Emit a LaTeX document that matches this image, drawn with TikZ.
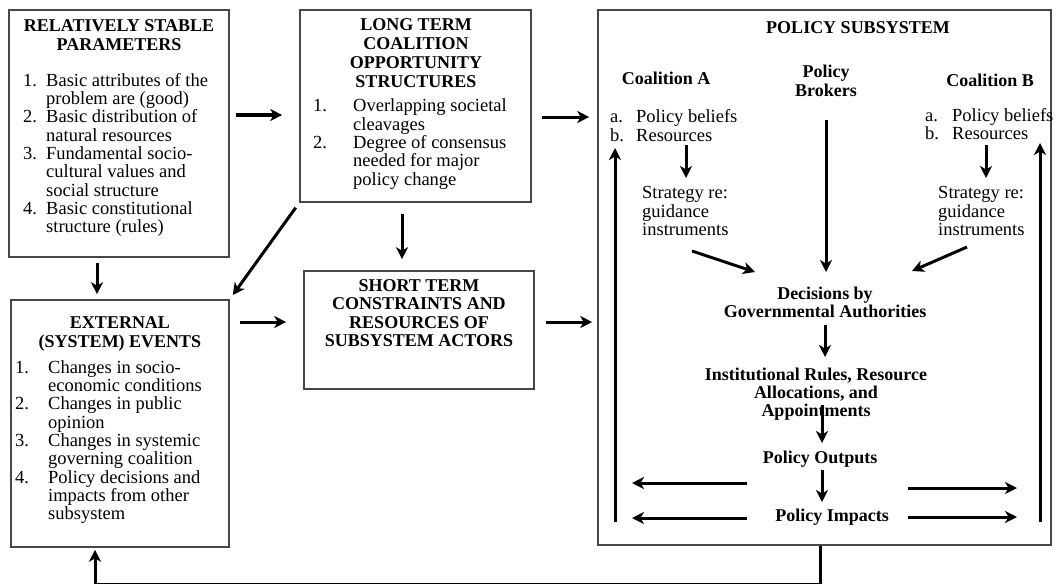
\documentclass[tikz,border=0pt]{standalone}
\usepackage{fontspec}
\setmainfont{Liberation Serif}
\usetikzlibrary{arrows.meta,calc}
\newcommand\mkLab[2]{\makebox[#1][l]{#2}}
\newcommand\mkInd[1]{\hspace*{#1}}
\begin{document}
\begin{tikzpicture}[x=1pt,y=-1pt,
  frame/.style={draw=black!72, line width=1.6pt, inner sep=0pt},
  arr/.style={line width=3pt, -{Stealth[length=12pt,width=12pt,inset=3.5pt]}},
  hd/.style={font=\fontsize{18}{19}\selectfont\bfseries, align=center, inner sep=0pt},
  hdl/.style={font=\fontsize{18}{18.3}\selectfont\bfseries, align=center, inner sep=0pt},
  bd/.style={font=\fontsize{18.5}{18.3}\selectfont, align=left, inner sep=0pt, anchor=west},
]
\useasboundingbox (0,0) rectangle (1056,583);

% ---- frames
\node[frame, minimum width=220pt, minimum height=247pt] (rsp) at (119,133.5) {};
\node[frame, minimum width=231pt, minimum height=192pt] (ltc) at (415.5,106) {};
\node[frame, minimum width=218pt, minimum height=247pt] (ext) at (120,423.5) {};
\node[frame, minimum width=230pt, minimum height=118pt] (stc) at (419,330) {};
\node[frame, minimum width=453pt, minimum height=535pt] (ps) at (824.5,277.5) {};

% ---- box texts
\node[hd] (rspT) at (119,35) {RELATIVELY STABLE\\PARAMETERS};
\node[bd] (rspL) at (23,155) {\mkLab{23pt}{1.}Basic attributes of the\\
\mkInd{23pt}problem are (good)\\
\mkLab{23pt}{2.}Basic distribution of\\
\mkInd{23pt}natural resources\\
\mkLab{23pt}{3.}Fundamental socio-\\
\mkInd{23pt}cultural values and\\
\mkInd{23pt}social structure\\
\mkLab{23pt}{4.}Basic constitutional\\
\mkInd{23pt}structure (rules)};

\node[hd] (ltcT) at (416,53.5) {LONG TERM\\COALITION\\OPPORTUNITY\\STRUCTURES};
\node[bd] (ltcL) at (313,144) {\mkLab{40pt}{1.}Overlapping societal\\
\mkInd{40pt}cleavages\\
\mkLab{40pt}{2.}Degree of consensus\\
\mkInd{40pt}needed for major\\
\mkInd{40pt}policy change};

\node[hd] (extT) at (120,334) {EXTERNAL\\(SYSTEM) EVENTS};
\node[bd] (extL) at (15,442) {\mkLab{33pt}{1.}Changes in socio-\\
\mkInd{33pt}economic conditions\\
\mkLab{33pt}{2.}Changes in public\\
\mkInd{33pt}opinion\\
\mkLab{33pt}{3.}Changes in systemic\\
\mkInd{33pt}governing coalition\\
\mkLab{33pt}{4.}Policy decisions and\\
\mkInd{33pt}impacts from other\\
\mkInd{33pt}subsystem};

\node[hdl] (stcT) at (419,313) {SHORT TERM\\CONSTRAINTS AND\\RESOURCES OF\\SUBSYSTEM ACTORS};

% ---- policy subsystem texts
\node[hd] (psT) at (858,28) {POLICY SUBSYSTEM};
\node[hd] (coA) at (666,78) {Coalition A};
\node[hd] (brk) at (826,80.5) {Policy\\Brokers};
\node[hd] (coB) at (990,80) {Coalition B};
\node[bd] (aL) at (610,125.5) {\mkLab{26pt}{a.}Policy beliefs\\\mkLab{26pt}{b.}Resources};
\node[bd] (bL) at (925,124) {\mkLab{27pt}{a.}Policy beliefs\\\mkLab{27pt}{b.}Resources};
\node[bd] (stA) at (642,211) {Strategy re:\\guidance\\instruments};
\node[bd] (stB) at (938,211) {Strategy re:\\guidance\\instruments};
\node[hdl] (dec) at (825,302.5) {Decisions by\\Governmental Authorities};
\node[hdl] (inst) at (816,394) {Institutional Rules, Resource\\Allocations, and\\Appointments};
\node[hd] (out) at (820,459) {Policy Outputs};
\node[hd] (imp) at (832,517) {Policy Impacts};

% ---- coordinates for free ends
\coordinate (y115) at (0,115);
\coordinate (y117) at (0,117);
\coordinate (y322) at (0,322);
\coordinate (x97) at (97,0);
\coordinate (x402) at (402,0);
\coordinate (fb1) at (820,584);
\coordinate (fb2) at (95,584);

% ---- main connectors
\draw[arr, shorten <=6pt, shorten >=17pt] (rsp.east |- y115) -- (ltc.west |- y115);
\draw[arr, shorten <=10pt, shorten >=8pt] (ltc.east |- y117) -- (ps.west |- y117);
\draw[arr, shorten <=5pt, shorten >=5pt] (rsp.south -| x97) -- (ext.north -| x97);
\draw[arr, shorten <=11pt, shorten >=11pt] (ltc.south -| x402) -- (stc.north -| x402);
\draw[arr, shorten <=6pt, shorten >=5pt] (ltc.south west) -- (ext.north east);
\draw[arr, shorten <=10pt, shorten >=17pt] (ext.east |- y322) -- (stc.west |- y322);
\draw[arr, shorten <=11pt, shorten >=5pt] (stc.east |- y322) -- (ps.west |- y322);
\draw[arr, shorten >=2pt] (ps.south -| fb1) -- (fb1) -- (fb2) -- (ext.south -| fb2);

% ---- subsystem connectors
\coordinate (a1) at (686,145); \coordinate (a2) at (686,178);
\coordinate (b1) at (986,145); \coordinate (b2) at (986,178);
\coordinate (k1) at (826,120); \coordinate (k2) at (826,272);
\coordinate (da1) at (692,251); \coordinate (da2) at (755,272);
\coordinate (db1) at (967,247); \coordinate (db2) at (912,271);
\coordinate (d1) at (825,325); \coordinate (d2) at (825,357);
\coordinate (i1) at (822,405); \coordinate (i2) at (822,443);
\coordinate (o1) at (822,470); \coordinate (o2) at (822,502);
\coordinate (l1a) at (747,483); \coordinate (l1b) at (632,483);
\coordinate (l2a) at (747,518); \coordinate (l2b) at (632,518);
\coordinate (r1a) at (908,488); \coordinate (r1b) at (1017,488);
\coordinate (r2a) at (908,517); \coordinate (r2b) at (1017,517);
\coordinate (vl1) at (615,522); \coordinate (vl2) at (615,148);
\coordinate (vr1) at (1040,522); \coordinate (vr2) at (1040,143);

\draw[arr] (a1) -- (a2);
\draw[arr] (b1) -- (b2);
\draw[arr] (k1) -- (k2);
\draw[arr] (da1) -- (da2);
\draw[arr] (db1) -- (db2);
\draw[arr] (d1) -- (d2);
\draw[arr] (i1) -- (i2);
\draw[arr] (o1) -- (o2);
\draw[arr] (l1a) -- (l1b);
\draw[arr] (l2a) -- (l2b);
\draw[arr] (r1a) -- (r1b);
\draw[arr] (r2a) -- (r2b);
\draw[arr] (vl1) -- (vl2);
\draw[arr] (vr1) -- (vr2);
\end{tikzpicture}
\end{document}
